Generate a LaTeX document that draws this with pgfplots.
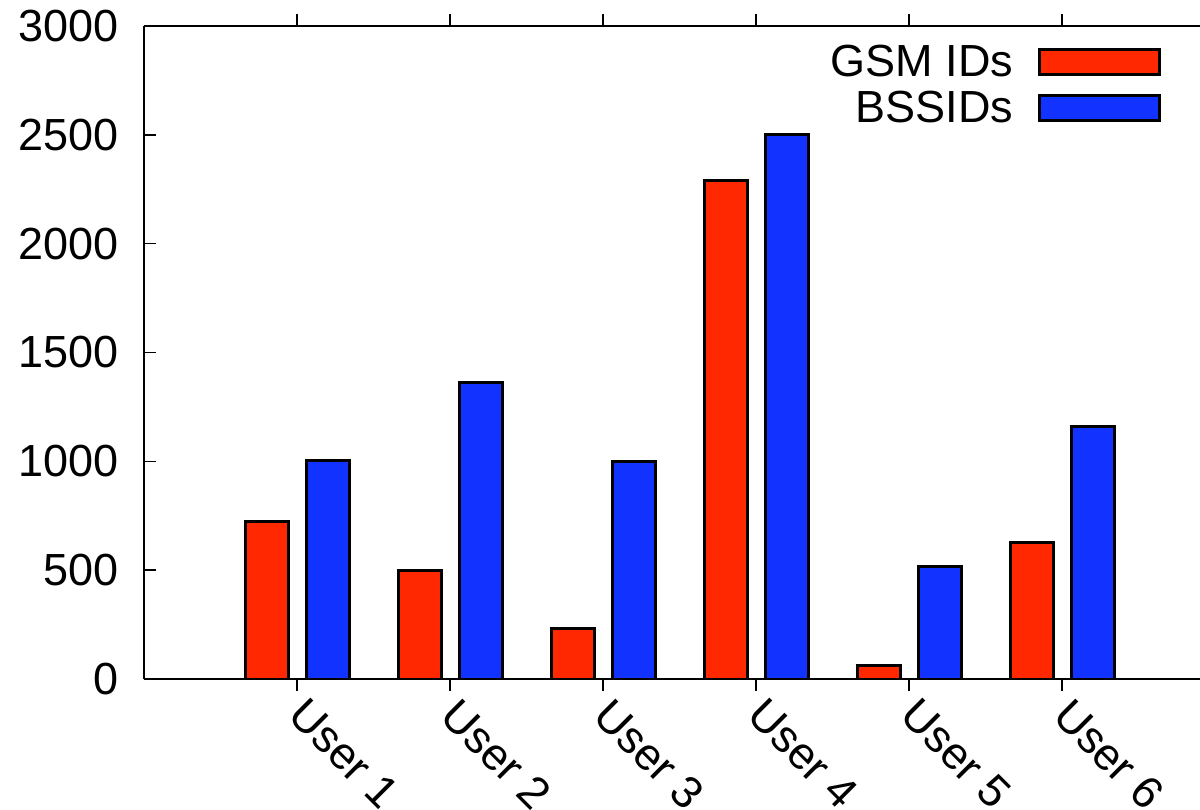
\documentclass[border=0pt]{standalone}
\usepackage{pgfplots}
\pgfplotsset{compat=1.18}
\usepackage{fontspec}
\setmainfont{Liberation Sans}
\definecolor{gsmred}{RGB}{255,40,0}
\definecolor{bssblue}{RGB}{18,50,255}
\begin{document}
\begin{tikzpicture}
\useasboundingbox (-72pt,-65pt) rectangle (528pt,339.5pt);
\begin{axis}[
  at={(0,0)}, anchor=south west,
  scale only axis,
  width=528pt, height=326.5pt,
  xmin=0, xmax=6.9,
  ymin=0, ymax=3000,
  axis x line*=box,
  axis y line*=left,
  axis line style={line width=1.1pt},
  xtick={1,2,3,4,5,6},
  xticklabels={User 1,User 2,User 3,User 4,User 5,User 6},
  ytick={0,500,1000,1500,2000,2500,3000},
  tick align=inside,
  major tick length=6pt,
  tick style={line width=0.8pt, black},
  xtick pos=both,
  ytick pos=left,
  /pgf/number format/assume math mode=true,
  /pgf/number format/1000 sep={},
  tick label style={font=\fontsize{22.5}{27}\selectfont},
  yticklabel style={xshift=-9pt},
  xticklabel style={xshift=5.5pt, yshift=2.5pt, rotate=-45, anchor=north west},
  ybar,
  bar width=21.5pt,
  legend plot pos=right,
  legend cell align=right,
  legend style={at={(rel axis cs:0.9635,0.978)}, anchor=north east, draw=none, fill=none,
    font=\fontsize{22.5}{27}\selectfont, row sep=2pt, column sep=10.5pt, inner sep=0pt},
  legend image code/.code={\draw[#1, line width=1.5pt] (0pt,-6.25pt) rectangle (60pt,6.25pt);},
]
\addplot[bar shift=-15pt, fill=gsmred, draw=black, line width=1.5pt]
  coordinates {(1,722) (2,500) (3,232) (4,2288) (5,62) (6,625)};
\addlegendentry{GSM IDs}
\addplot[bar shift=15.5pt, fill=bssblue, draw=black, line width=1.5pt]
  coordinates {(1,1004) (2,1364) (3,1000) (4,2502) (5,519) (6,1160)};
\addlegendentry{BSSIDs}
\end{axis}
\end{tikzpicture}
\end{document}
